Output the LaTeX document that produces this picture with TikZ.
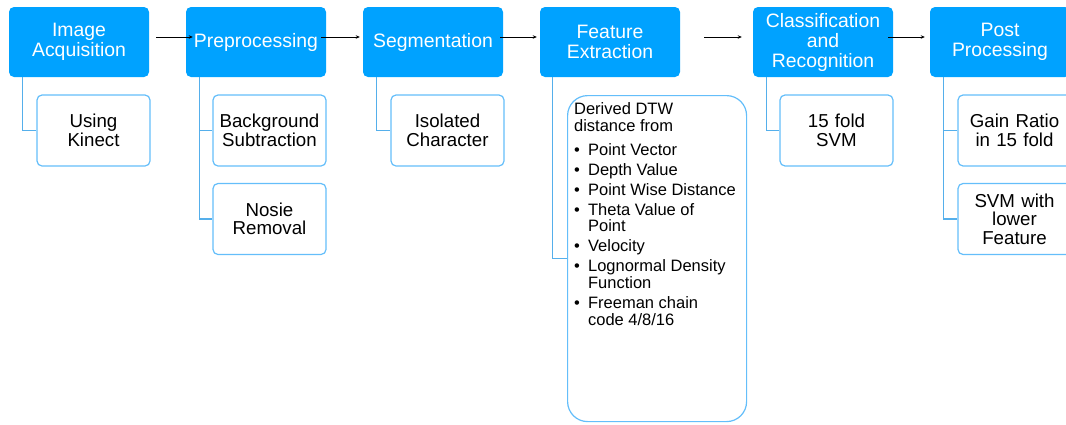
\documentclass[tikz,border=0pt]{standalone}
\usepackage{fontspec}
\setmainfont{Liberation Sans}
\usetikzlibrary{arrows.meta}
\definecolor{stageblue}{RGB}{0,162,255}
\definecolor{detailblue}{RGB}{100,190,250}
\definecolor{linkblue}{RGB}{85,175,235}
\newcommand{\listitem}[1]{\par\hangindent=14pt\hangafter=1\noindent\makebox[14pt][l]{\textbullet}#1}

\begin{document}
\begin{tikzpicture}
  [x=1pt,y=-1pt,every node/.style={align=center,inner sep=0pt}]
  \tikzstyle{stage} = [rectangle,rounded corners=5pt,fill=stageblue,text=white,minimum width=140pt,minimum height=70pt,text width=134pt,font=\fontsize{19.4}{20}\selectfont]
  \tikzstyle{detail} = [rectangle,rounded corners=5pt,draw=detailblue,line width=1.2pt,fill=white,minimum width=113pt,minimum height=71pt,text width=110pt,font=\fontsize{18.7}{18.5}\selectfont]
  \tikzstyle{link} = [draw=linkblue,line width=1.3pt]
  \useasboundingbox (0,0) rectangle (1066,424);
  % main stages
  \node[stage] (acq)  at (79,42)   {Image\\Acquisition};
  \node[stage] (pre)  at (256,42)  {Preprocessing};
  \node[stage] (seg)  at (433,42)  {Segmentation};
  \node[stage] (feat) at (610,42)  {Feature\\Extraction};
  \node[stage] (cls)  at (823,42)  {Classification\\and\\Recognition};
  \node[stage] (post) at (1000,42) {Post\\Processing};
  % details
  \node[detail] (kinect) at (93.5,130.5)  {Using\\Kinect};
  \node[detail] (bgsub)  at (269.5,130.5) {Background\\Subtraction};
  \node[detail] (noise)  at (269.5,219)   {Nosie\\Removal};
  \node[detail] (isol)   at (447.5,130.5) {Isolated\\Character};
  \node[detail] (svm)    at (836.5,130.5) {15 fold\\SVM};
  \node[detail] (gain)   at (1014.5,130.5) {Gain Ratio\\in 15 fold};
  \node[detail] (lower)  at (1014.5,219)  {SVM with\\lower\\Feature};
  \node[detail,rounded corners=20pt,anchor=north west,align=left,inner xsep=6.5pt,inner ysep=7pt,font=\fontsize{16.5}{16.7}\selectfont,text width=,minimum width=179pt] (featlist) at (567,95)
    {\begin{minipage}[t][312pt][t]{166pt}\raggedright\setlength{\parskip}{3.3pt}%
     Derived DTW\newline distance from\par\vspace{4pt}%
     \listitem{Point Vector}%
     \listitem{Depth Value}%
     \listitem{Point Wise Distance}%
     \listitem{Theta Value of\newline Point}%
     \listitem{Velocity}%
     \listitem{Lognormal Density\newline Function}%
     \listitem{Freeman chain\newline code 4/8/16}%
     \end{minipage}};
  % connectors
  \draw[link] (acq.south west) ++(14,0) |- (kinect.west);
  \draw[link] (pre.south west) ++(14,0) |- (bgsub.west);
  \draw[link] (pre.south west) ++(14,0) |- (noise.west);
  \draw[link] (seg.south west) ++(14,0) |- (isol.west);
  \draw[link] (feat.south west) ++(13,0) |- (featlist.west);
  \draw[link] (cls.south west) ++(14,0) |- (svm.west);
  \draw[link] (post.south west) ++(14,0) |- (gain.west);
  \draw[link] (post.south west) ++(14,0) |- (lower.west);
  \foreach \from/\to/\s/\e in {acq/pre/7/7,pre/seg/-5/-3,seg/feat/-3/-3,feat/cls/24/-11,cls/post/-5/-5}
    \draw[-{Stealth[length=4pt,width=3.5pt]},line width=0.8pt] ([xshift=\s pt,yshift=5pt]\from.east) -- ([xshift=\e pt,yshift=5pt]\to.west);
\end{tikzpicture}
\end{document}
